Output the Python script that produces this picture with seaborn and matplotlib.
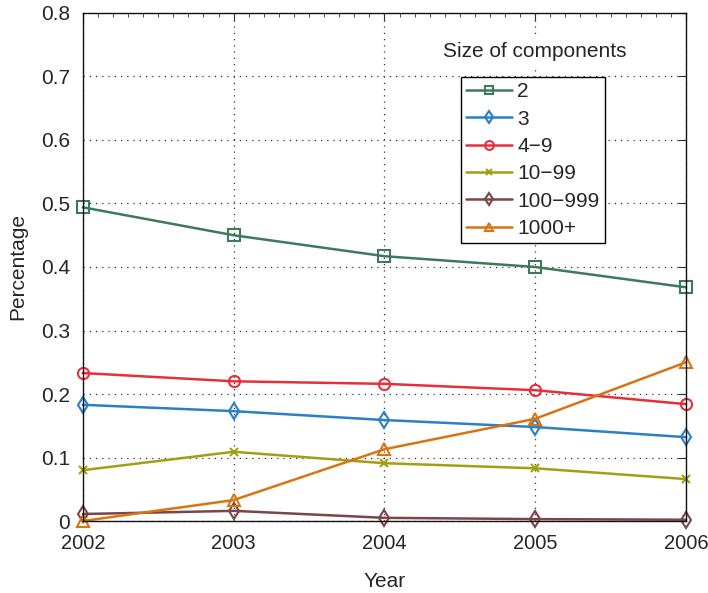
import matplotlib
matplotlib.use("Agg")
import matplotlib.pyplot as plt
import seaborn as sns
import pandas as pd
from matplotlib.ticker import AutoMinorLocator

years = [2002, 2003, 2004, 2005, 2006]
s_2 = [0.494, 0.450, 0.417, 0.400, 0.368]
s_3 = [0.183, 0.173, 0.159, 0.148, 0.132]
s_4_9 = [0.233, 0.220, 0.216, 0.206, 0.184]
s_10_99 = [0.080, 0.109, 0.091, 0.083, 0.066]
s_100_999 = [0.011, 0.016, 0.005, 0.003, 0.002]
s_1000 = [0.000, 0.033, 0.113, 0.161, 0.250]
labels = ["2", "3", "4\u22129", "10\u221299", "100\u2212999", "1000+"]
series = [s_2, s_3, s_4_9, s_10_99, s_100_999, s_1000]
colors = ["#3d7a5c", "#2a80c4", "#e5303c", "#a0a010", "#7a4646", "#d87412"]
markers = ["s", "d", "o", "x", "d", "^"]

rows = []
for lab, vals in zip(labels, series):
    for y, v in zip(years, vals):
        rows.append({"Year": y, "Percentage": v, "Size": lab})
df = pd.DataFrame(rows)

sns.set_style("white")
plt.rcParams['font.family'] = ['Liberation Sans', 'DejaVu Sans']

fig = plt.figure(figsize=(7.08, 5.93), dpi=100)
ax = fig.add_axes([0.117, 0.1214, 0.852, 0.8567])

for lab, col, mk in zip(labels, colors, markers):
    sub = df[df["Size"] == lab]
    sns.lineplot(data=sub, x="Year", y="Percentage", ax=ax, color=col, marker=mk,
                 markersize=8 if mk != "x" else 5.5, markerfacecolor="none" if mk != "x" else col,
                 markeredgecolor=col, markeredgewidth=1.5, linewidth=1.8, label=lab,
                 clip_on=False)

ax.set_xlim(2002, 2006)
ax.set_ylim(0, 0.8)
ax.set_xticks(years)
ax.set_xticklabels([str(y) for y in years])
ax.set_yticks([0, 0.1, 0.2, 0.3, 0.4, 0.5, 0.6, 0.7, 0.8])
ax.set_yticklabels(["0", "0.1", "0.2", "0.3", "0.4", "0.5", "0.6", "0.7", "0.8"])
ax.xaxis.set_minor_locator(AutoMinorLocator(10))
ax.tick_params(which="both", direction="in", top=True, right=True, labelsize=15, color="#333333")
ax.tick_params(axis="x", labelsize=14.5)
ax.tick_params(which="major", length=6)
ax.tick_params(which="minor", length=3)
ax.tick_params(axis="x", pad=9)
ax.tick_params(axis="y", pad=9)
ax.grid(True, which="major", linestyle=(0, (1, 4)), color="#333333", linewidth=0.9)
for sp in ax.spines.values():
    sp.set_color("#111111")
    sp.set_linewidth(1.0)
ax.set_xlabel("Year", fontsize=15, labelpad=14)
ax.set_ylabel("Percentage", fontsize=15, labelpad=10)

leg = ax.legend(loc="upper left", bbox_to_anchor=(0.627, 0.874), fontsize=15, frameon=True,
                fancybox=False, edgecolor="black", framealpha=1, borderpad=0.25,
                borderaxespad=0, labelspacing=0.4, handlelength=2.2, handletextpad=0.25,
                markerscale=0.8)
leg.get_frame().set_linewidth(1.0)
ax.text(0.597, 0.925, "Size of components", transform=ax.transAxes, fontsize=15,
        ha="left", va="center", backgroundcolor="white")

fig.savefig("out.png", dpi=100)
